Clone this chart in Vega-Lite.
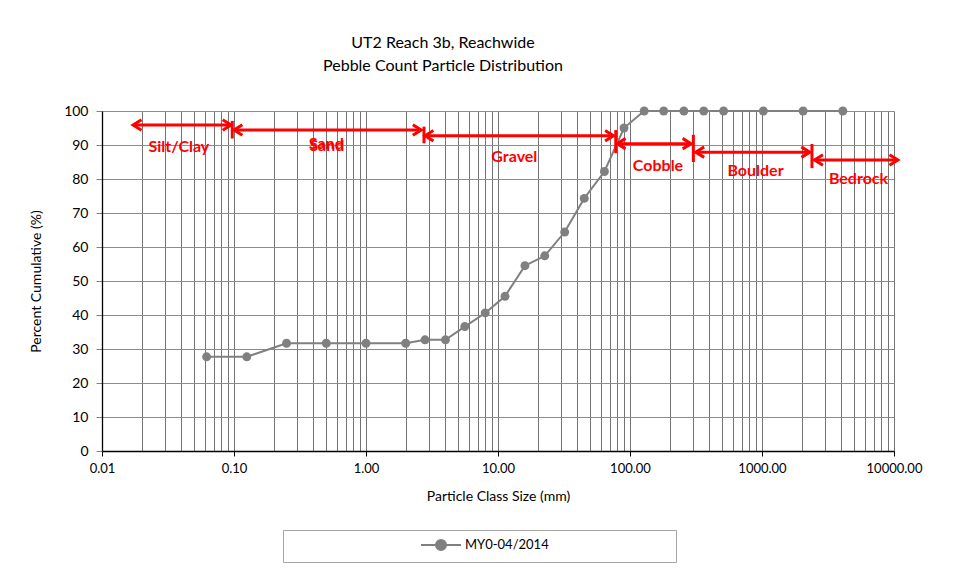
{
  "$schema": "https://vega.github.io/schema/vega-lite/v6.json",
  "width": 792,
  "height": 340,
  "autosize": {"type": "none"},
  "padding": {"left": 102, "top": 111, "right": 61, "bottom": 119},
  "background": "white",
  "title": {
    "text": ["UT2 Reach 3b, Reachwide", "Pebble Count Particle Distribution"],
    "font": "Lato",
    "fontSize": 16,
    "fontWeight": "normal",
    "color": "#000000",
    "lineHeight": 23,
    "offset": 30,
    "dx": -55,
    "anchor": "middle"
  },
  "config": {
    "view": {"stroke": null},
    "font": "Lato"
  },
  "datasets": {
    "pebbles": [
      {"x": 0.062, "y": 27.7, "series": "MY0-04/2014"},
      {"x": 0.125, "y": 27.7, "series": "MY0-04/2014"},
      {"x": 0.25, "y": 31.7, "series": "MY0-04/2014"},
      {"x": 0.5, "y": 31.7, "series": "MY0-04/2014"},
      {"x": 1, "y": 31.7, "series": "MY0-04/2014"},
      {"x": 2, "y": 31.7, "series": "MY0-04/2014"},
      {"x": 2.8, "y": 32.7, "series": "MY0-04/2014"},
      {"x": 4, "y": 32.7, "series": "MY0-04/2014"},
      {"x": 5.6, "y": 36.6, "series": "MY0-04/2014"},
      {"x": 8, "y": 40.6, "series": "MY0-04/2014"},
      {"x": 11.3, "y": 45.5, "series": "MY0-04/2014"},
      {"x": 16, "y": 54.5, "series": "MY0-04/2014"},
      {"x": 22.6, "y": 57.4, "series": "MY0-04/2014"},
      {"x": 32, "y": 64.4, "series": "MY0-04/2014"},
      {"x": 45, "y": 74.3, "series": "MY0-04/2014"},
      {"x": 64, "y": 82.2, "series": "MY0-04/2014"},
      {"x": 90, "y": 95.0, "series": "MY0-04/2014"},
      {"x": 128, "y": 100, "series": "MY0-04/2014"},
      {"x": 180, "y": 100, "series": "MY0-04/2014"},
      {"x": 256, "y": 100, "series": "MY0-04/2014"},
      {"x": 362, "y": 100, "series": "MY0-04/2014"},
      {"x": 512, "y": 100, "series": "MY0-04/2014"},
      {"x": 1024, "y": 100, "series": "MY0-04/2014"},
      {"x": 2048, "y": 100, "series": "MY0-04/2014"},
      {"x": 4096, "y": 100, "series": "MY0-04/2014"}
    ],
    "arrows": [
      {"cls": "Silt/Clay", "x": 0.0172, "xe": 0.095, "y": 95.9},
      {"cls": "Sand", "x": 0.1, "xe": 2.62, "y": 94.4},
      {"cls": "Gravel", "x": 2.8, "xe": 75, "y": 92.7},
      {"cls": "Cobble", "x": 80, "xe": 290, "y": 90.4},
      {"cls": "Boulder", "x": 315, "xe": 2300, "y": 87.9},
      {"cls": "Bedrock", "x": 2500, "xe": 10700, "y": 85.6}
    ],
    "heads": [
      {"x": 0.0172, "y": 95.9, "dir": "L"},
      {"x": 0.095, "y": 95.9, "dir": "R"},
      {"x": 0.1, "y": 94.4, "dir": "L"},
      {"x": 2.62, "y": 94.4, "dir": "R"},
      {"x": 2.8, "y": 92.7, "dir": "L"},
      {"x": 75, "y": 92.7, "dir": "R"},
      {"x": 80, "y": 90.4, "dir": "L"},
      {"x": 290, "y": 90.4, "dir": "R"},
      {"x": 315, "y": 87.9, "dir": "L"},
      {"x": 2300, "y": 87.9, "dir": "R"},
      {"x": 2500, "y": 85.6, "dir": "L"},
      {"x": 10700, "y": 85.6, "dir": "R"}
    ],
    "bars": [
      {"x": 0.097, "y": 97.1, "ye": 91.9},
      {"x": 2.75, "y": 95.4, "ye": 90.5},
      {"x": 78, "y": 94.4, "ye": 87.6},
      {"x": 302, "y": 93.0, "ye": 85.0},
      {"x": 2390, "y": 90.3, "ye": 83.2}
    ],
    "labels": [
      {"text": "Silt/Clay", "x": 0.0382, "y": 89.4},
      {"text": "Sand", "x": 0.5, "y": 90.3},
      {"text": "Sand", "x": 0.505, "y": 89.8},
      {"text": "Gravel", "x": 13.3, "y": 86.6},
      {"text": "Cobble", "x": 163, "y": 83.8},
      {"text": "Boulder", "x": 893, "y": 82.4},
      {"text": "Bedrock", "x": 5385, "y": 80.0}
    ]
  },
  "encoding": {
    "x": {
      "field": "x",
      "type": "quantitative",
      "scale": {"type": "log", "domain": [0.01, 10000], "nice": false},
      "axis": {
        "title": "Particle Class Size (mm)",
        "titleFont": "Lato",
        "titleFontSize": 14,
        "titleFontWeight": "normal",
        "titleColor": "#000000",
        "titlePadding": 14,
        "values": [0.01,0.02,0.03,0.04,0.05,0.06,0.07,0.08,0.09,0.1,0.2,0.3,0.4,0.5,0.6,0.7,0.8,0.9,1,2,3,4,5,6,7,8,9,10,20,30,40,50,60,70,80,90,100,200,300,400,500,600,700,800,900,1000,2000,3000,4000,5000,6000,7000,8000,9000,10000],
        "labelExpr": "indexof([0.01,0.1,1,10,100,1000,10000], datum.value) >= 0 ? format(datum.value, '.2f') : ''",
        "labelFont": "Lato",
        "labelFontSize": 13,
        "labelColor": "#000000",
        "labelPadding": 6,
        "labelOverlap": false,
        "labelFlush": false,
        "domainColor": "#000000",
        "domainWidth": 1.3,
        "tickColor": "#000000",
        "tickSize": 5,
        "tickOpacity": {"condition": {"test": "indexof([0.01,0.1,1,10,100,1000,10000], datum.value) >= 0", "value": 1}, "value": 0},
        "grid": true,
        "gridColor": "#5a5a5a",
        "gridWidth": 1,
        "gridOpacity": 0.85
      }
    },
    "y": {
      "field": "y",
      "type": "quantitative",
      "scale": {"domain": [0, 100], "nice": false},
      "axis": {
        "title": "Percent Cumulative (%)",
        "titleFont": "Lato",
        "titleFontSize": 14,
        "titleFontWeight": "normal",
        "titleColor": "#000000",
        "titlePadding": 20,
        "values": [0,10,20,30,40,50,60,70,80,90,100],
        "labelFont": "Lato",
        "labelFontSize": 14,
        "labelColor": "#000000",
        "labelPadding": 8,
        "labelOverlap": false,
        "domainColor": "#000000",
        "domainWidth": 1.3,
        "tickColor": "#808080",
        "tickSize": 6,
        "grid": true,
        "gridColor": "#8c8c8c",
        "gridWidth": 1
      }
    }
  },
  "layer": [
    {
      "data": {"name": "pebbles"},
      "mark": {"type": "line", "strokeWidth": 2, "point": {"filled": true, "size": 80, "opacity": 1}},
      "encoding": {
        "color": {
          "field": "series",
          "type": "nominal",
          "scale": {"range": ["#808080"]},
          "legend": {
            "title": null,
            "orient": "none",
            "legendX": 181,
            "legendY": 419,
            "direction": "horizontal",
            "strokeColor": "#a6a6a6",
            "padding": 7,
            "symbolType": "M-2.86,0L2.86,0M0.72,0A0.72,0.72,0,1,1,-0.72,0A0.72,0.72,0,1,1,0.72,0Z",
            "symbolSize": 196,
            "symbolStrokeWidth": 2,
            "symbolFillColor": "#808080",
            "symbolStrokeColor": "#808080",
            "symbolOffset": 143,
            "labelFont": "Lato",
            "labelFontSize": 13,
            "labelColor": "#000000",
            "labelOffset": 16,
            "labelLimit": 400,
            "labelExpr": "datum.label + '\u00a0\u00a0\u00a0\u00a0\u00a0\u00a0\u00a0\u00a0\u00a0\u00a0\u00a0\u00a0\u00a0\u00a0\u00a0\u00a0\u00a0\u00a0\u00a0\u00a0\u00a0\u00a0\u00a0\u00a0\u00a0\u00a0\u00a0\u00a0\u00a0\u00a0\u00a0\u00a0\u00a0\u00a0\u00a0\u00a0\u200b'"
          }
        }
      }
    },
    {
      "data": {"name": "arrows"},
      "mark": {"type": "rule", "color": "#ff0000", "strokeWidth": 3},
      "encoding": {
        "x2": {"field": "xe"}
      }
    },
    {
      "data": {"name": "heads"},
      "mark": {"type": "point", "size": 110, "filled": false, "stroke": "#ff0000", "strokeWidth": 3, "opacity": 1},
      "encoding": {
        "shape": {
          "field": "dir",
          "type": "nominal",
          "scale": {"domain": ["L", "R"], "range": ["M1.6,-1L0,0L1.6,1", "M-1.6,-1L0,0L-1.6,1"]},
          "legend": null
        }
      }
    },
    {
      "data": {"name": "bars"},
      "mark": {"type": "rule", "color": "#ff0000", "strokeWidth": 3},
      "encoding": {
        "y2": {"field": "ye"}
      }
    },
    {
      "data": {"name": "labels"},
      "mark": {"type": "text", "color": "#ff0000", "font": "Lato", "fontSize": 16, "fontWeight": "bold", "align": "center", "baseline": "middle"},
      "encoding": {
        "text": {"field": "text"}
      }
    }
  ]
}
